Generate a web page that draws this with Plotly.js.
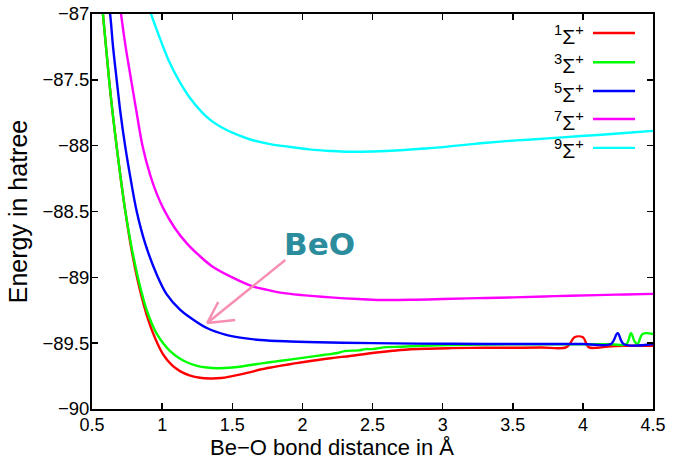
<!DOCTYPE html>
<html>
<head>
<meta charset="utf-8">
<script src="https://cdn.plot.ly/plotly-3.0.1.min.js"></script>
<style>html,body{margin:0;padding:0;background:#fff;}#chart{width:684px;height:461px;}</style>
</head>
<body>
<div id="chart"></div>
<script>
// Series labels (legend) and colours
const seriesLabels = ["<sup>1</sup>Σ<sup>+</sup>", "<sup>3</sup>Σ<sup>+</sup>", "<sup>5</sup>Σ<sup>+</sup>", "<sup>7</sup>Σ<sup>+</sup>", "<sup>9</sup>Σ<sup>+</sup>"];
const seriesColors = ["#ff0000", "#00ff00", "#0000ff", "#ff00ff", "#00ffff"];

// 1Σ+
const x1 = [0.56, 0.578, 0.6, 0.622, 0.648, 0.675, 0.705, 0.735, 0.78, 0.825, 0.867, 0.9, 0.93, 0.97, 1.01, 1.07, 1.13, 1.2, 1.27, 1.34, 1.42, 1.5, 1.63, 1.7, 1.8, 1.91, 2.0, 2.2, 2.34, 2.5, 2.7, 2.9, 3.06, 3.3, 3.5, 3.7, 3.88, 3.91, 3.94, 4.0, 4.04, 4.1, 4.18, 4.3, 4.4, 4.5];
const y1 = [-86.78, -87.0, -87.25, -87.5, -87.76, -88.0, -88.25, -88.48, -88.78, -89.02, -89.2, -89.32, -89.41, -89.51, -89.59, -89.667, -89.714, -89.746, -89.763, -89.768, -89.765, -89.75, -89.72, -89.70, -89.68, -89.66, -89.645, -89.615, -89.597, -89.575, -89.552, -89.542, -89.538, -89.535, -89.535, -89.533, -89.532, -89.5, -89.455, -89.455, -89.53, -89.535, -89.525, -89.52, -89.52, -89.52];

// 3Σ+
const x3 = [0.56, 0.578, 0.6, 0.622, 0.648, 0.675, 0.705, 0.735, 0.78, 0.825, 0.85, 0.89, 0.93, 0.962, 1.01, 1.057, 1.12, 1.176, 1.25, 1.32, 1.39, 1.5, 1.63, 1.7, 1.8, 1.91, 2.0, 2.15, 2.25, 2.3, 2.4, 2.45, 2.5, 2.6, 2.7, 2.85, 3.06, 3.3, 3.6, 3.9, 4.2, 4.31, 4.343, 4.37, 4.39, 4.426, 4.5];
const y3 = [-86.78, -87.0, -87.25, -87.5, -87.76, -88.0, -88.25, -88.48, -88.76, -88.99, -89.1, -89.25, -89.36, -89.43, -89.505, -89.56, -89.612, -89.645, -89.672, -89.685, -89.69, -89.685, -89.666, -89.655, -89.64, -89.625, -89.612, -89.59, -89.575, -89.56, -89.555, -89.545, -89.545, -89.53, -89.527, -89.52, -89.514, -89.51, -89.508, -89.508, -89.508, -89.508, -89.425, -89.49, -89.506, -89.43, -89.43];

// 5Σ+
const x5 = [0.6, 0.629, 0.65, 0.676, 0.703, 0.736, 0.775, 0.819, 0.879, 0.962, 1.033, 1.129, 1.2, 1.319, 1.45, 1.557, 1.7, 1.914, 2.2, 2.5, 3.06, 3.5, 4.0, 4.2, 4.248, 4.29, 4.5];
const y5 = [-86.8, -87.0, -87.25, -87.5, -87.75, -88.0, -88.25, -88.5, -88.742, -88.98, -89.13, -89.248, -89.305, -89.385, -89.435, -89.458, -89.476, -89.487, -89.495, -89.50, -89.505, -89.506, -89.506, -89.506, -89.425, -89.506, -89.506];

// 7Σ+
const x7 = [0.69, 0.707, 0.74, 0.779, 0.82, 0.86, 0.914, 0.96, 1.01, 1.09, 1.176, 1.26, 1.355, 1.5, 1.65, 1.75, 1.843, 2.0, 2.2, 2.4, 2.557, 2.8, 3.0, 3.25, 3.507, 3.8, 4.1, 4.3, 4.5];
const y7 = [-86.85, -87.0, -87.25, -87.5, -87.76, -88.0, -88.22, -88.36, -88.48, -88.625, -88.742, -88.83, -88.915, -89.0, -89.07, -89.095, -89.116, -89.135, -89.152, -89.165, -89.172, -89.17, -89.165, -89.158, -89.152, -89.143, -89.135, -89.13, -89.126];

// 9Σ+
const x9 = [0.88, 0.921, 0.96, 0.998, 1.05, 1.117, 1.2, 1.283, 1.35, 1.426, 1.53, 1.64, 1.77, 1.902, 2.05, 2.2, 2.32, 2.5, 2.7, 2.9, 3.1, 3.271, 3.5, 3.75, 3.986, 4.25, 4.5];
const y9 = [-86.87, -87.0, -87.115, -87.223, -87.36, -87.5, -87.64, -87.745, -87.81, -87.862, -87.915, -87.957, -87.988, -88.008, -88.028, -88.04, -88.046, -88.044, -88.035, -88.02, -88.0, -87.982, -87.962, -87.945, -87.927, -87.908, -87.888];

const xTicks = [0.5, 1, 1.5, 2, 2.5, 3, 3.5, 4, 4.5];
const yTicks = [-90, -89.5, -89, -88.5, -88, -87.5, -87];

const xs = [x1, x3, x5, x7, x9];
const ys = [y1, y3, y5, y7, y9];

const FONT = "Liberation Sans, Arial, Helvetica, sans-serif";

const traces = xs.map((x, i) => ({
  x: x, y: ys[i], type: "scatter", mode: "lines",
  name: seriesLabels[i],
  line: {color: seriesColors[i], width: 2.4, shape: "spline", smoothing: 1.0},
  showlegend: false, hoverinfo: "skip"
}));

// Custom legend (text left of sample line, as in the reference)
const legendY = [0.952, 0.878, 0.805, 0.734, 0.661];
const annotations = seriesLabels.map((t, i) => ({
  xref: "paper", yref: "paper", x: 0.881, y: legendY[i] - 0.004,
  xanchor: "right", yanchor: "middle", showarrow: false,
  text: t, font: {family: FONT, size: 21, color: "#000"}
}));
const shapes = seriesLabels.map((t, i) => ({
  type: "line", xref: "paper", yref: "paper",
  x0: 0.893, x1: 0.968, y0: legendY[i], y1: legendY[i],
  line: {color: seriesColors[i], width: 2.4}
}));

// x-axis title (placed as in the reference, left of the plot centre)
annotations.push({
  xref: "paper", yref: "paper", x: 0.428, y: -0.097,
  xanchor: "center", yanchor: "middle", showarrow: false,
  text: "Be\u2212O bond distance in Å", font: {family: FONT, size: 22, color: "#000"}
});

// BeO label and arrow
annotations.push({
  xref: "x", yref: "y", x: 2.125, y: -88.745, showarrow: false,
  text: "<b>BeO</b>", font: {family: "DejaVu Sans, Verdana, sans-serif", size: 31, color: "#2b8c9e"},
  xanchor: "center", yanchor: "middle"
});
const pink = "#f78fb3";
shapes.push({type: "line", xref: "x", yref: "y", x0: 1.8786, y0: -88.8683, x1: 1.3214, y1: -89.3468, line: {color: pink, width: 2.5}});
shapes.push({type: "line", xref: "x", yref: "y", x0: 1.3214, y0: -89.3468, x1: 1.40, y1: -89.1873, line: {color: pink, width: 2.5}});
shapes.push({type: "line", xref: "x", yref: "y", x0: 1.3214, y0: -89.3468, x1: 1.5214, y1: -89.324, line: {color: pink, width: 2.5}});

const layout = {
  width: 684, height: 461,
  margin: {l: 92, r: 31, t: 14, b: 52},
  paper_bgcolor: "#fff", plot_bgcolor: "#fff",
  font: {family: FONT, size: 18, color: "#000"},
  xaxis: {
    range: [0.5, 4.5], tickvals: xTicks, ticktext: xTicks.map(String),
    ticks: "inside", ticklen: 6, tickwidth: 1.5, tickcolor: "#000",
    showline: true, linecolor: "#000", linewidth: 2, mirror: "ticks",
    showgrid: false, zeroline: false,
    ticklabelstandoff: -2,
    tickfont: {family: FONT, size: 18}
  },
  yaxis: {
    range: [-90, -87], tickvals: yTicks, ticktext: yTicks.map(v => String(v).replace("-", "\u2212")),
    ticks: "inside", ticklen: 6, tickwidth: 1.5, tickcolor: "#000",
    showline: true, linecolor: "#000", linewidth: 2, mirror: "ticks",
    showgrid: false, zeroline: false,
    ticklabelstandoff: -3,
    tickfont: {family: FONT, size: 18.5},
    title: {text: "Energy in hatree", font: {family: FONT, size: 25}, standoff: 8}
  },
  annotations: annotations,
  shapes: shapes
};

Plotly.newPlot("chart", traces, layout, {displayModeBar: false, staticPlot: true});
</script>
</body>
</html>
